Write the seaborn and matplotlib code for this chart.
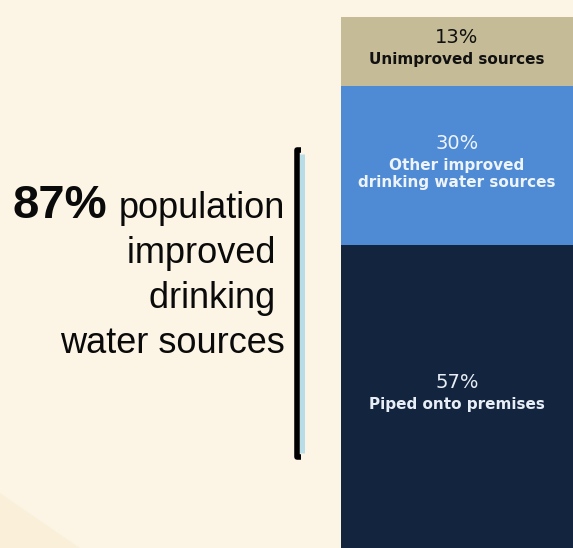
import matplotlib
matplotlib.use("Agg")
import matplotlib.pyplot as plt
from matplotlib.patches import Polygon
from matplotlib.lines import Line2D
import seaborn as sns
import pandas as pd

# Share of population by main drinking water source (%)
categories = ["Piped onto premises", "Other improved\ndrinking water sources", "Unimproved sources"]
shares = [57, 30, 13]
seg_colors = ["#13243f", "#4f8ad4", "#c5bb97"]
text_colors = ["#e8eef5", "#eef4fb", "#111111"]
improved_total = 87

sns.set_theme(style="white")
plt.rcParams["font.family"] = ["DejaVu Sans"]

bg = "#fcf5e6"
W, H = 573, 548
fig = plt.figure(figsize=(W / 100, H / 100), dpi=100, facecolor=bg)

# faint lighter wedge in the lower-left corner
fig.patches.append(Polygon([(0, 0), (0, 55 / H), (80 / W, 0)], closed=True,
                           transform=fig.transFigure, facecolor="#faefd9",
                           edgecolor="none", zorder=0))

ax = fig.add_axes([341 / W, 0, 1 - 341 / W, 531 / H])
ax.set_facecolor(bg)

# cumulative stack: draw the tallest first so lower segments sit on top
cum = []
run = 0
for s in shares:
    run += s
    cum.append(run)
df = pd.DataFrame({"x": ["all"] * 3, "top": cum, "cat": categories})
for i in reversed(range(len(shares))):
    sns.barplot(data=df.iloc[[i]], x="x", y="top", color=seg_colors[i],
                width=1.0, ax=ax, saturation=1, linewidth=0, errorbar=None)

ax.set_xlim(-0.5, 0.5)
ax.set_ylim(0, 100)
ax.set_axis_off()

# labels in each segment
bottoms = [c - s for c, s in zip(cum, shares)]
for i, (cat, s) in enumerate(zip(categories, shares)):
    mid = bottoms[i] + s / 2
    nlines = cat.count("\n") + 1
    pct_off = 10 + 6 * (nlines - 1)
    ax.annotate(f"{s}%", xy=(0, mid), xytext=(0, pct_off), textcoords="offset points",
                ha="center", va="center", fontsize=14, color=text_colors[i])
    ax.annotate(cat, xy=(0, mid), xytext=(0, -6), textcoords="offset points",
                ha="center", va="center", fontsize=11, fontweight="bold",
                color=text_colors[i], linespacing=1.15)

# bracket with light-blue inner edge
def px(x, y):
    return x / W, 1 - y / H

x0, x1, yt, yb = 296.5, 301, 150, 457
fig.add_artist(Line2D(*zip(px(301.5, 154), px(301.5, 453)), transform=fig.transFigure,
                      color="#b9dde6", lw=3.6, solid_capstyle="butt"))
fig.add_artist(Line2D(*zip(px(x1, yt), px(x0, yt), px(x0, yb), px(x1, yb)),
                      transform=fig.transFigure, color="black", lw=4.0,
                      solid_joinstyle="round", solid_capstyle="butt"))

# headline text on the left
fig.text(107 / W, 1 - 218 / H, f"{improved_total}%", ha="right", va="baseline",
         fontsize=34, fontweight="bold", family="Liberation Sans", color="#0a0a0a")
lines = ["population", "improved ", "drinking ", "water sources"]
base = [218, 263, 308, 353]
for t, b in zip(lines, base):
    fig.text(285 / W, 1 - b / H, t, ha="right", va="baseline", fontsize=26,
             family="Liberation Sans", color="#0a0a0a")

fig.savefig("out.png", dpi=100, facecolor=bg)
